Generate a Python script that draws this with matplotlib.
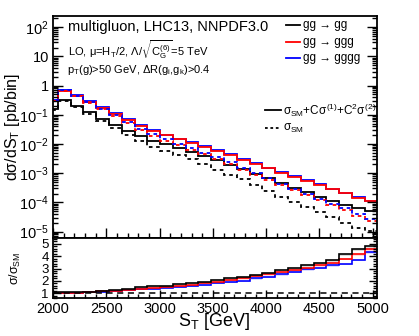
import numpy as np
import matplotlib
matplotlib.use('Agg')
import matplotlib.pyplot as plt
from matplotlib.lines import Line2D
from matplotlib.ticker import MultipleLocator, LogLocator, NullFormatter, FuncFormatter

plt.rcParams['font.family'] = ['Liberation Sans', 'DejaVu Sans']
plt.rcParams['mathtext.fontset'] = 'custom'
plt.rcParams['mathtext.rm'] = 'Liberation Sans'
plt.rcParams['mathtext.it'] = 'Liberation Sans'
plt.rcParams['mathtext.bf'] = 'Liberation Sans:bold'
plt.rcParams['mathtext.sf'] = 'Liberation Sans'

# ---------------- data ----------------
bin_edges = [1925, 2045, 2165, 2285, 2405, 2525, 2645, 2765, 2885, 3005, 3125,
             3245, 3365, 3485, 3605, 3725, 3845, 3965, 4085, 4205, 4325, 4445,
             4565, 4685, 4805, 4925, 5045]

# gg -> gg
gg_full = [0.153, 0.318, 0.203, 0.121, 0.0714, 0.0445, 0.0277, 0.0180, 0.0126,
           0.00959, 0.00728, 0.00531, 0.00378, 0.00272, 0.00191, 0.00139,
           0.000939, 0.000670, 0.000452, 0.000319, 0.000233, 0.000157,
           0.000115, 8.17e-5, 6.21e-5, 5.09e-5]
gg_sm = [0.146, 0.297, 0.185, 0.106, 0.0595, 0.0356, 0.0205, 0.0122, 0.00808,
         0.00592, 0.00423, 0.00295, 0.00201, 0.00131, 0.000868, 0.000610,
         0.000380, 0.000253, 0.000157, 0.000105, 7.13e-5, 4.51e-5, 3.13e-5,
         1.97e-5, 1.35e-5, 1.065e-5]

# gg -> ggg
ggg_full = [0.302, 0.664, 0.447, 0.283, 0.174, 0.110, 0.0659, 0.0411, 0.0277,
            0.0198, 0.0144, 0.0108, 0.00805, 0.00589, 0.00419, 0.00290,
            0.00207, 0.00147, 0.00104, 0.000741, 0.000541, 0.000394,
            0.000281, 0.000205, 0.000145, 0.000108]
ggg_sm = [0.293, 0.638, 0.422, 0.257, 0.151, 0.0917, 0.0515, 0.0298, 0.0191,
          0.0130, 0.0090, 0.00635, 0.00447, 0.00305, 0.00202, 0.00132,
          0.000863, 0.000581, 0.000385, 0.000258, 0.000176, 0.000120,
          8.10e-5, 5.39e-5, 3.45e-5, 2.37e-5]

# gg -> gggg
gggg_full = [0.317, 0.697, 0.469, 0.297, 0.183, 0.1155, 0.0692, 0.0432, 0.0291,
             0.0208, 0.0151, 0.01134, 0.00845, 0.00618, 0.00440, 0.00305,
             0.00217, 0.00154, 0.00109, 0.000778, 0.000568, 0.000414,
             0.000295, 0.000215, 0.000152, 0.000113]
gggg_sm = [0.311, 0.677, 0.447, 0.275, 0.163, 0.0987, 0.0563, 0.0327, 0.0211,
           0.01434, 0.00993, 0.00709, 0.00506, 0.00343, 0.00234, 0.00153,
           0.000986, 0.000661, 0.000431, 0.000285, 0.000194, 0.000135,
           9.02e-5, 6.32e-5, 4.08e-5, 2.61e-5]

series_labels = ['gg → gg', 'gg → ggg', 'gg → gggg']
xticks_major = [2000, 2500, 3000, 3500, 4000, 4500, 5000]

# ---------------- figure ----------------
W, H = 419, 336
fig = plt.figure(figsize=(W / 100, H / 100), dpi=100)

def fx(px):
    return px / W

def fy(py):
    return 1 - py / H

x0, x1 = 53, 376.5
ax = fig.add_axes([fx(x0), fy(238), (x1 - x0) / W, (238 - 16) / H])
axr = fig.add_axes([fx(x0), fy(298.3), (x1 - x0) / W, (298.3 - 237.5) / H])

colors = ['black', '#ff0000', '#0000ff']
bands = ['#999999', '#ff9999', '#9999ff']
fulls = [np.array(gg_full), np.array(ggg_full), np.array(gggg_full)]
sms = [np.array(gg_sm), np.array(ggg_sm), np.array(gggg_sm)]
edges = np.array(bin_edges)

for i in [2, 1, 0]:
    c = colors[i]
    if i > 0:
        ax.stairs(fulls[i] * 1.07, edges, baseline=fulls[i] * 0.98, fill=True,
                  color=bands[i], alpha=0.35, lw=0)
    ax.stairs(fulls[i], edges, baseline=None, color=c, lw=1.3)
for i in [0, 1, 2]:
    c = colors[i]
    ls = (2, (2, 2)) if i == 2 else (0, (2, 2))
    ax.stairs(sms[i], edges, baseline=None, color=c, lw=1.3, linestyle=ls)

ax.set_yscale('log')
ax.set_xlim(2000, 5035)
ax.set_ylim(6e-6, 240)

def logfmt(v, pos):
    e = int(round(np.log10(v)))
    if e == 0:
        return '1'
    if e == 1:
        return '10'
    return r'$10^{%d}$' % e

ax.yaxis.set_major_locator(LogLocator(base=10, numticks=20))
ax.yaxis.set_minor_locator(LogLocator(base=10, subs=np.arange(2, 10), numticks=20))
ax.yaxis.set_major_formatter(FuncFormatter(logfmt))
ax.yaxis.set_minor_formatter(NullFormatter())
ax.xaxis.set_major_locator(plt.FixedLocator(xticks_major))
ax.xaxis.set_minor_locator(MultipleLocator(100))
ax.tick_params(axis='x', labelbottom=False)
ax.tick_params(which='both', direction='in', right=True, top=False, width=1.0)
ax.tick_params(which='major', length=7)
ax.tick_params(which='minor', length=3.5)
ax.tick_params(axis='y', labelsize=10.5, pad=3)

# ratio panel
for i in [0, 2, 1]:
    r = fulls[i] / sms[i]
    axr.stairs(r, edges, baseline=r * 0.96, fill=True, color=bands[i], alpha=0.35, lw=0)
for i in [2, 1, 0]:
    r = fulls[i] / sms[i]
    axr.stairs(r, edges, baseline=None, color=colors[i], lw=1.2)
axr.axhline(1.0, color='black', lw=1.1, linestyle=(0, (4, 3)))
axr.set_xlim(2000, 5035)
axr.set_ylim(0.6, 5.5)
axr.xaxis.set_major_locator(plt.FixedLocator(xticks_major))
axr.xaxis.set_minor_locator(MultipleLocator(100))
axr.yaxis.set_major_locator(plt.FixedLocator([1, 2, 3, 4, 5]))
axr.yaxis.set_minor_locator(MultipleLocator(0.2))
axr.tick_params(which='both', direction='in', right=True, top=False, width=1.0)
axr.tick_params(which='major', length=6)
axr.tick_params(which='minor', length=3)
axr.tick_params(axis='y', labelsize=9.5, pad=3)
axr.tick_params(axis='x', labelsize=10.5, pad=3)

for a in (ax, axr):
    for s in a.spines.values():
        s.set_linewidth(1.3)

# axis titles
fig.text(fx(12), fy(127), r'd$\sigma$/dS$_{\mathrm{T}}$ [pb/bin]', fontsize=11.5,
         rotation=90, ha='center', va='center')
fig.text(fx(15), fy(268), r'$\sigma/\sigma_{\mathrm{SM}}$', fontsize=9,
         rotation=90, ha='center', va='center')
fig.text(fx(214), fy(321), r'S$_{\mathrm{T}}$ [GeV]', fontsize=13, ha='center', va='center')

# texts
fig.text(fx(68), fy(27), 'multigluon, LHC13, NNPDF3.0', fontsize=10.5, va='center', ha='left')
fig.text(fx(68), fy(50), r'LO, $\mu$=H$_{\mathrm{T}}$/2, $\Lambda/\sqrt{\mathrm{C}_{\mathrm{G}}^{(6)}}$=5 TeV',
         fontsize=8, va='center', ha='left')
fig.text(fx(67), fy(70), r'p$_{\mathrm{T}}$(g)>50 GeV, $\Delta$R(g$_{\mathrm{i}}$,g$_{\mathrm{k}}$)>0.4',
         fontsize=8, va='center', ha='left')

# legend 1
for i, yy in enumerate([25, 42, 58]):
    fig.add_artist(Line2D([fx(286), fx(300)], [fy(yy), fy(yy)], color=colors[i], lw=1.3))
    fig.text(fx(303), fy(yy), series_labels[i], fontsize=8.5, va='center', ha='left')

# legend 2
fig.add_artist(Line2D([fx(265), fx(281)], [fy(110), fy(110)], color='black', lw=1.3))
fig.text(fx(283), fy(110), r'$\sigma_{\mathrm{SM}}$+C$\sigma^{(1)}$+C$^{2}\sigma^{(2)}$',
         fontsize=8.5, va='center', ha='left')
fig.add_artist(Line2D([fx(265), fx(281)], [fy(128), fy(128)], color='black', lw=1.3,
                      linestyle=(0, (1.5, 1.5))))
fig.text(fx(283), fy(128), r'$\sigma_{\mathrm{SM}}$', fontsize=8.5, va='center', ha='left')

fig.savefig('out.png', dpi=100)
